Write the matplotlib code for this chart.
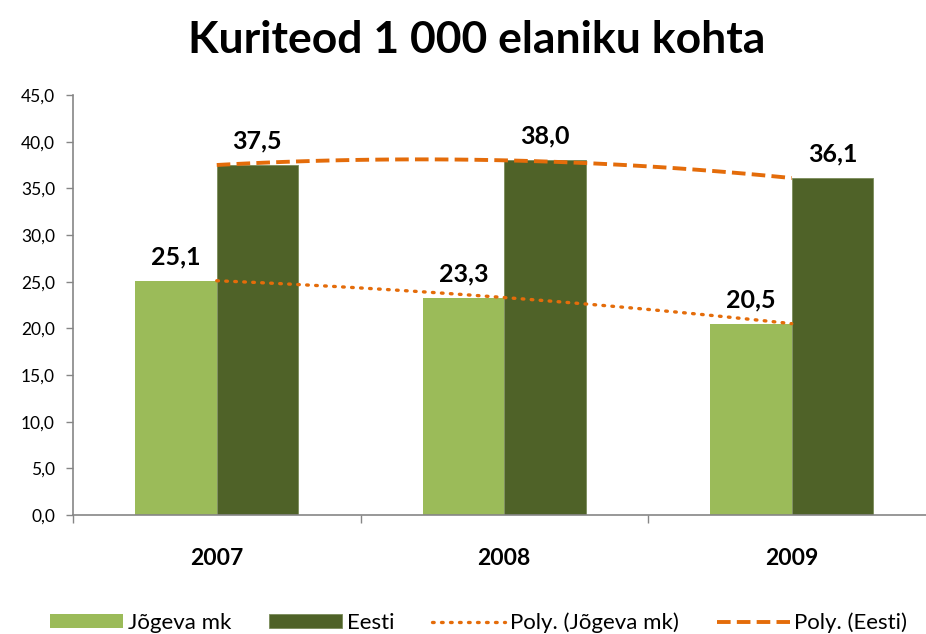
import numpy as np
from matplotlib import pyplot as plt
from matplotlib.ticker import FuncFormatter

# data
YEARS = ["2007", "2008", "2009"]
JOGEVA = [25.1, 23.3, 20.5]
EESTI = [37.5, 38.0, 36.1]

TITLE = "Kuriteod 1 000 elaniku kohta"
LIGHT = "#9BBB59"
DARK = "#4F6228"
ORANGE = "#E46C0A"
AXIS_GRAY = "#868686"

plt.rcParams["font.family"] = ["Lato", "DejaVu Sans"]

fig = plt.figure(figsize=(9.26, 6.34), dpi=100)
ax = fig.add_axes([73 / 926, 119 / 634, 862.5 / 926, 420 / 634])

x = np.arange(len(YEARS))
w = 0.283
b1 = ax.bar(x - w / 2, JOGEVA, w, color=LIGHT, label="Jõgeva mk", zorder=2)
b2 = ax.bar(x + w / 2, EESTI, w, color=DARK, edgecolor="#7A8C5A", linewidth=0.6,
            label="Eesti", zorder=2)

# polynomial (order 2) trendlines, at category centres like excel does
xs = np.linspace(0, 2, 100)
p1 = np.polyfit(x, JOGEVA, 2)
p2 = np.polyfit(x, EESTI, 2)
ax.plot(xs, np.polyval(p1, xs), color=ORANGE, lw=2.4, ls=(0, (0.5, 2.2)),
        dash_capstyle="round", label="Poly. (Jõgeva mk)", zorder=3)
ax.plot(xs, np.polyval(p2, xs), color=ORANGE, lw=2.8, ls=(0, (3.5, 1.6)),
        label="Poly. (Eesti)", zorder=3)

for bars, vals in ((b1, JOGEVA), (b2, EESTI)):
    for r, v in zip(bars, vals):
        ax.annotate(f"{v:.1f}".replace(".", ","), (r.get_x() + r.get_width() / 2, v),
                    xytext=(0, 9), textcoords="offset points", ha="center",
                    va="bottom", fontsize=18, fontweight="bold")

ax.set_ylim(0, 45)
ax.set_yticks(np.arange(0, 45.1, 5))
ax.yaxis.set_major_formatter(FuncFormatter(lambda v, _: f"{v:.1f}".replace(".", ",")))
ax.set_xlim(-0.5, 2.5)
ax.set_xticks([-0.5, 0.5, 1.5, 2.5])
ax.set_xticklabels([])
ax.set_xticks(x, minor=True)
ax.set_xticklabels(YEARS, minor=True, fontsize=16.5, fontweight="bold")
ax.tick_params(axis="x", which="minor", length=0, pad=24)
ax.tick_params(axis="x", which="major", length=6, color=AXIS_GRAY, width=1)
ax.tick_params(axis="y", length=5, color=AXIS_GRAY, width=1, labelsize=12.5, pad=8)

for s in ("top", "right"):
    ax.spines[s].set_visible(False)
for s in ("left", "bottom"):
    ax.spines[s].set_color(AXIS_GRAY)
    ax.spines[s].set_linewidth(1.2)

fig.text(0.515, 0.937, TITLE, ha="center", va="center", fontsize=32, fontweight="bold")

handles, labels = ax.get_legend_handles_labels()
order = [2, 3, 0, 1]
fig.legend([handles[i] for i in order], [labels[i] for i in order],
           loc="lower center", bbox_to_anchor=(0.517, -0.03), ncol=4, frameon=False,
           fontsize=16, handlelength=3.3, handleheight=0.6, handletextpad=0.2,
           columnspacing=1.7)

fig.savefig("out.png", dpi=100)
